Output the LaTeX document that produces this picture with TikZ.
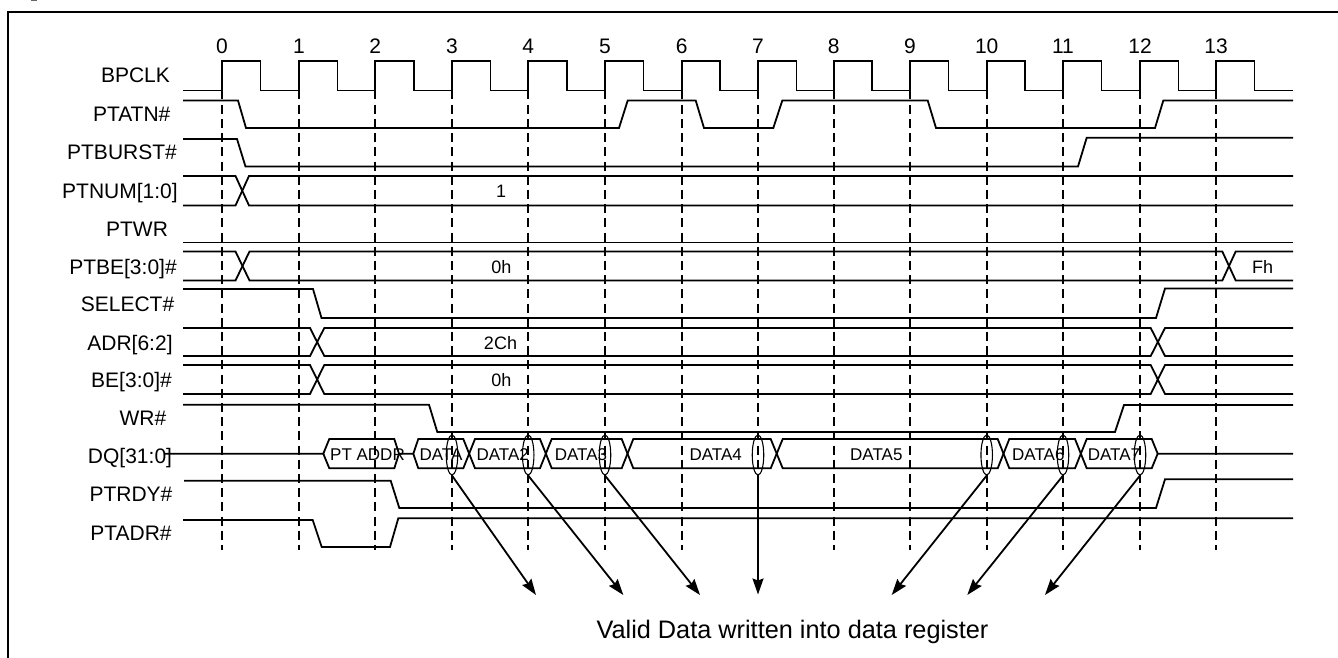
\documentclass[tikz,border=0pt]{standalone}
\usepackage{fontspec}
\setmainfont{Liberation Sans}
\usetikzlibrary{shapes.geometric,arrows.meta}
\tikzset{
  sig/.style={line width=1.8pt,line join=miter},
  guide/.style={line width=1.9pt,dash pattern=on 9pt off 5.2pt},
  frameline/.style={line width=2pt},
  lbl/.style={font=\fontsize{21}{21}\selectfont,inner sep=0pt,anchor=base},
  tick/.style={font=\fontsize{21}{21}\selectfont,inner sep=0pt,anchor=center},
  val/.style={font=\fontsize{18}{18}\selectfont,inner sep=0pt,anchor=base},
  dat/.style={font=\fontsize{17}{18}\selectfont,inner sep=0pt,anchor=base},
  sample/.style={ellipse,draw,line width=1.1pt,minimum width=11.5pt,minimum height=40pt,inner sep=0pt},
  wr/.style={line width=1.8pt,-{Stealth[length=16pt,width=11pt,inset=2pt]}},
  note/.style={font=\fontsize{25.3}{26}\selectfont,inner sep=0pt,anchor=base}
}
\begin{document}
\begin{tikzpicture}[x=1pt,y=-1pt]
\useasboundingbox (0,0) rectangle (1338,658);
% clipped remnant above the frame
\fill[black!60] (31,0) rectangle (37,1.2);
% frame
\draw[frameline] (8,658) -- (8,12) -- (1338,12);
% clock guides and clock numbers
\foreach \n/\x in {0/222,1/299,2/375.3,3/452,4/528.2,5/605,6/681.8,7/758,8/833.7,9/910,10/986.7,11/1063,12/1140,13/1216}{
  \draw[guide] (\x,90.5) -- (\x,550);
  \node[tick] (t\n) at (\x,46) {\n};
}
% BPCLK
\draw[sig] (183,90.5)
  \foreach \x in {222,299,375.3,452,528.2,605,681.8,758,833.7,910,986.7,1063,1140,1216}{
    -- (\x,90.5) -- (\x,61) -- (\x+38.5,61) -- (\x+38.5,90.5)
  } -- (1293,90.5);
% PTATN#
\draw[sig] (183,100.5) -- (238,100.5) -- (246,128) -- (619,128) -- (627.7,100.5) -- (695.7,100.5) -- (704,128) -- (773.3,128) -- (782.3,100.5) -- (927.7,100.5) -- (936,128) -- (1155,128) -- (1163.3,100.5) -- (1293,100.5);
% PTBURST#
\draw[sig] (183,139) -- (237,139) -- (245.5,166.5) -- (1078,166.5) -- (1086.7,137.7) -- (1293,137.7);
% PTNUM
\draw[sig] (183,176) -- (235.5,176) -- (249,205.5) -- (1293,205.5);
\draw[sig] (183,205.5) -- (235.5,205.5) -- (249,176) -- (1293,176);
% PTWR
\draw[sig] (183,242.5) -- (1293,242.5);
% PTBE
\draw[sig] (183,251.5) -- (235.5,251.5) -- (249.5,280.5) -- (1222.3,280.5) -- (1235.7,251.5) -- (1293,251.5);
\draw[sig] (183,280.5) -- (235.5,280.5) -- (249.5,251.5) -- (1222.3,251.5) -- (1235.7,280.5) -- (1293,280.5);
% SELECT#
\draw[sig] (183,289) -- (313,289) -- (321.5,318) -- (1156,318) -- (1165,288.5) -- (1293,288.5);
% ADR
\draw[sig] (183,328) -- (310,328) -- (324.3,356) -- (1150.7,356) -- (1165,328) -- (1293,328);
\draw[sig] (183,356) -- (310,356) -- (324.3,328) -- (1150.7,328) -- (1165,356) -- (1293,356);
% BE
\draw[sig] (183,365) -- (310,365) -- (324.3,394) -- (1150.7,394) -- (1165,365) -- (1293,365);
\draw[sig] (183,394) -- (310,394) -- (324.3,365) -- (1150.7,365) -- (1165,394) -- (1293,394);
% WR#
\draw[sig] (183,404.7) -- (429,404.7) -- (437.3,432) -- (1115,432) -- (1124,405) -- (1293,405);
% DQ
\draw[sig] (165,453.7) -- (323.3,453.7) -- (329.3,439) -- (394.3,439) -- (399,453.7) -- (413.3,453.7) -- (418.3,439) -- (463.3,439) -- (475,468.3) -- (540,468.3) -- (551.7,439) -- (621.7,439) -- (633.3,468.3) -- (770.7,468.3) -- (782.7,439) -- (997.7,439) -- (1009.3,468.3) -- (1075,468.3) -- (1086.7,439) -- (1151.7,439) -- (1157.7,453.7) -- (1293,453.7);
\draw[sig] (323.3,453.7) -- (329.3,468.3) -- (394.3,468.3) -- (399,453.7);
\draw[sig] (413.3,453.7) -- (418.3,468.3) -- (463.3,468.3) -- (475,439) -- (540,439) -- (551.7,468.3) -- (621.7,468.3) -- (633.3,439) -- (770.7,439) -- (782.7,468.3) -- (997.7,468.3) -- (1009.3,439) -- (1075,439) -- (1086.7,468.3) -- (1151.7,468.3) -- (1157.7,453.7);
% PTRDY#
\draw[sig] (184,480.7) -- (390.7,480.7) -- (399.3,508) -- (1156,508) -- (1165,479.3) -- (1293,479.3);
% PTADR#
\draw[sig] (183,520) -- (312.7,520) -- (321.7,547) -- (390,547) -- (398.3,518.3) -- (1293,518.3);
% signal names
\node[lbl] (nBPCLK) at (135.5,82.5) {BPCLK};
\node[lbl] (nPTATN) at (131.7,122) {PTATN\#};
\node[lbl] (nPTBURST) at (122,159.5) {PTBURST\#};
\node[lbl] (nPTNUM) at (120,198) {PTNUM[1:0]};
\node[lbl] (nPTWR) at (137,236) {PTWR};
\node[lbl] (nPTBE) at (123,274.2) {PTBE[3:0]\#};
\node[lbl] (nSELECT) at (127.5,311.8) {SELECT\#};
\node[lbl] (nADR) at (130,350.2) {ADR[6:2]};
\node[lbl] (nBE) at (131.5,387.5) {BE[3:0]\#};
\node[lbl] (nWR) at (143,425.5) {WR\#};
\node[lbl] (nDQ) at (130,463.5) {DQ[31:0]};
\node[lbl] (nPTRDY) at (131,501.2) {PTRDY\#};
\node[lbl] (nPTADR) at (131,540.5) {PTADR\#};
% bus values
\node[val] (v1) at (501,197.7) {1};
\node[val] (v2) at (501.3,273.3) {0h};
\node[val] (v3) at (500.5,349.3) {2Ch};
\node[val] (v4) at (501.3,386) {0h};
\node[val] (v5) at (1262.7,273.3) {Fh};
\node[dat] (d0) at (367.5,460) {PT ADDR};
\node[dat] (d1) at (441,460) {DATA};
\node[dat] (d2) at (502.7,460) {DATA2};
\node[dat] (d3) at (581,460) {DATA3};
\node[dat] (d4) at (715.7,460) {DATA4};
\node[dat] (d5) at (876.3,460) {DATA5};
\node[dat] (d6) at (1038.3,460) {DATA6};
\node[dat] (d7) at (1114,460) {DATA7};
% sampling ellipses
\node[sample] (e3) at (452,455) {};
\node[sample] (e4) at (528.2,455) {};
\node[sample] (e5) at (605,455) {};
\node[sample] (e7) at (758,455) {};
\node[sample] (e10) at (986.7,455) {};
\node[sample] (e11) at (1063,455) {};
\node[sample] (e12) at (1140,455) {};
% arrows
\coordinate (a3) at (536,595);
\coordinate (a4) at (623.3,595);
\coordinate (a5) at (700,595);
\coordinate (a7) at (758,594.5);
\coordinate (a10) at (891.7,595);
\coordinate (a11) at (967.3,595);
\coordinate (a12) at (1045,595);
\foreach \k in {3,4,5,7,10,11,12}{
  \draw[wr] (e\k.south) -- (a\k);
}
\node[note] (vd) at (792.5,638.5) {Valid Data written into data register};
\end{tikzpicture}
\end{document}
